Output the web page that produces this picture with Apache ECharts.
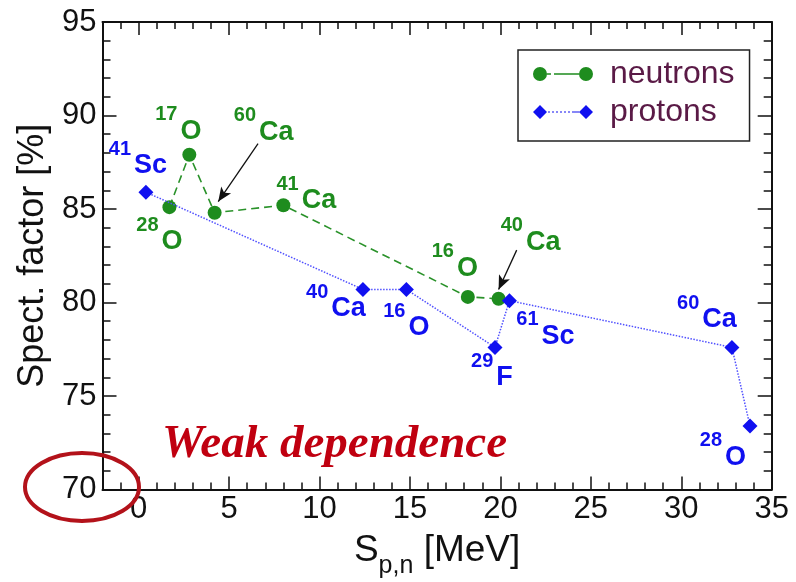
<!DOCTYPE html>
<html><head><meta charset="utf-8">
<script src="https://cdn.jsdelivr.net/npm/echarts@6/dist/echarts.min.js"></script>
<style>html,body{margin:0;padding:0;background:#fff}#c{width:796px;height:582px}</style>
</head><body><div id="c"></div><script>
// ---- data ----
const neutronX = [1.7, 2.8, 4.2, 8.0, 18.2, 19.9];
const neutronY = [85.1, 87.9, 84.8, 85.2, 80.3, 80.2];
const neutronMass = ['28', '17', '60', '41', '16', '40'];
const neutronElem = ['O', 'O', 'Ca', 'Ca', 'O', 'Ca'];
const protonX = [0.4, 12.4, 14.8, 19.7, 20.5, 32.8, 33.8];
const protonY = [85.9, 80.7, 80.7, 77.6, 80.1, 77.6, 73.4];
const protonMass = ['41', '40', '16', '29', '61', '60', '28'];
const protonElem = ['Sc', 'Ca', 'O', 'F', 'Sc', 'Ca', 'O'];
const xMajorTicks = [0, 5, 10, 15, 20, 25, 30, 35];
const xMinorTicks = [-1, 1, 2, 3, 4, 6, 7, 8, 9, 11, 12, 13, 14, 16, 17, 18, 19, 21, 22, 23, 24, 26, 27, 28, 29, 31, 32, 33, 34];
const yTicks = [70, 75, 80, 85, 90, 95];
const arrowFrom = [[6.6, 88.5], [20.9, 82.8]];
const arrowTo = [[4.4, 85.4], [19.9, 80.7]];
const seriesNames = ['neutrons', 'protons'];

// ---- style ----
const FONT = '"Liberation Sans", Arial, sans-serif';
const GREEN = '#1e8c1e', BLUE = '#1010f0', INK = '#111';
const neutronOffsets = [[-10, 28], [-11, -30], [49, -87], [23, -11], [-13, -35], [32, -63]];
const protonOffsets = [[-8, -33], [-27, 13], [0, 32], [-3, 24], [36, 29], [-25, -34], [-27, 25]];

const richFor = c => ({
  s: {fontSize: 20, fontWeight: 'bold', color: c, fontFamily: FONT, verticalAlign: 'top'},
  e: {fontSize: 27, fontWeight: 'bold', color: c, fontFamily: FONT, verticalAlign: 'bottom', padding: [13, 0, 0, 3]}
});
function buildData(xs, ys, mass, elem, offs) {
  return xs.map((x, i) => ({
    value: [x, ys[i]],
    label: {formatter: '{s|' + mass[i] + '}{e|' + elem[i] + '}', offset: offs[i]}
  }));
}
const lineAxis = {show: true, onZero: false, lineStyle: {color: INK, width: 2}};
const tickLine = {color: INK, width: 1.5};
function xAx(pos, ticks, len, withLine, withLabel) {
  return {
    type: 'value', position: pos, min: -2, max: 35,
    axisLine: withLine ? lineAxis : {show: false, onZero: false},
    axisTick: {show: true, inside: true, length: len, customValues: ticks, lineStyle: tickLine},
    axisLabel: withLabel ? {show: true, customValues: ticks, fontSize: 31, color: INK, margin: 4, fontFamily: FONT} : {show: false},
    splitLine: {show: false}
  };
}
const xAxes = [
  xAx('bottom', xMajorTicks, 13, true, true),
  xAx('bottom', xMinorTicks, 7, false, false),
  xAx('top', xMajorTicks, 13, true, false),
  xAx('top', xMinorTicks, 7, false, false)
];
xAxes[0].name = '{s|S}{sub|p,n}{s| [MeV]}';
xAxes[0].nameLocation = 'middle';
xAxes[0].nameGap = 43;
xAxes[0].nameTextStyle = {
  rich: {
    s: {fontSize: 37, color: INK, fontFamily: FONT, verticalAlign: 'top'},
    sub: {fontSize: 25, color: INK, fontFamily: FONT, verticalAlign: 'bottom', padding: [21, 0, 0, 0]}
  }
};
function yAx(pos, withLabel) {
  return {
    type: 'value', position: pos, min: yTicks[0], max: yTicks[yTicks.length - 1], interval: 5,
    axisLine: lineAxis,
    axisTick: {show: true, inside: true, length: 14, lineStyle: tickLine},
    minorTick: {show: true, splitNumber: 5, length: 8, lineStyle: tickLine},
    axisLabel: withLabel ? {show: true, fontSize: 31, color: INK, margin: 6, fontFamily: FONT} : {show: false},
    splitLine: {show: false}, minorSplitLine: {show: false}
  };
}
const yAxes = [yAx('left', true), yAx('right', false)];
yAxes[0].name = 'Spect. factor [%]';
yAxes[0].nameLocation = 'middle';
yAxes[0].nameGap = 42;
yAxes[0].nameTextStyle = {fontSize: 36, color: INK, fontFamily: FONT};

const neutronIcon = 'path://M0,7A7,7,0,1,1,14,7A7,7,0,1,1,0,7Z M14,6.2L18,6.2L18,7.8L14,7.8Z M21,6.2L46,6.2L46,7.8L21,7.8Z M46,7A7,7,0,1,1,60,7A7,7,0,1,1,46,7Z';
const protonIcon = 'path://M0,7L7,0L14,7L7,14Z M15,6.4L17,6.4L17,7.6L15,7.6Z M19,6.4L21,6.4L21,7.6L19,7.6Z M23,6.4L25,6.4L25,7.6L23,7.6Z M27,6.4L29,6.4L29,7.6L27,7.6Z M31,6.4L33,6.4L33,7.6L31,7.6Z M35,6.4L37,6.4L37,7.6L35,7.6Z M39,6.4L46,6.4L46,7.6L39,7.6Z M46,7L53,0L60,7L53,14Z';

const chart = echarts.init(document.getElementById('c'), null, {renderer: 'canvas'});
chart.setOption({
  animation: false,
  backgroundColor: '#fff',
  grid: {left: 102.5, right: 24.3, top: 22, bottom: 92.5, containLabel: false, outerBoundsMode: 'none'},
  xAxis: xAxes,
  yAxis: yAxes,
  legend: {
    orient: 'vertical', left: 518, top: 50, padding: [8, 15, 13, 15], itemGap: 6,
    itemWidth: 60, itemHeight: 14, borderColor: '#222', borderWidth: 1.5,
    textStyle: {fontSize: 32, color: '#5a1a46', fontFamily: FONT, padding: [0, 0, 0, 12]},
    itemStyle: {borderWidth: 0},
    data: [{name: seriesNames[0], icon: neutronIcon}, {name: seriesNames[1], icon: protonIcon}]
  },
  graphic: [
    {type: 'ellipse', shape: {cx: 82, cy: 487, rx: 57, ry: 34}, style: {fill: 'none', stroke: '#b3121a', lineWidth: 4}, z: 100},
    {type: 'text', left: 162, top: 421, z: 100, style: {text: 'Weak dependence', font: 'italic bold 47px "Liberation Serif", "Times New Roman", serif', fill: '#c00010'}}
  ],
  series: [
    {
      name: seriesNames[0], type: 'line', xAxisIndex: 0, yAxisIndex: 0, z: 3,
      data: buildData(neutronX, neutronY, neutronMass, neutronElem, neutronOffsets),
      symbol: 'circle', symbolSize: 14,
      itemStyle: {color: GREEN},
      lineStyle: {color: '#2a922a', type: [8, 5], width: 1.6},
      label: {show: true, position: 'inside', rich: richFor(GREEN)},
      emphasis: {disabled: true},
      markLine: {
        silent: true, z: 10, symbol: ['none', 'arrow'], symbolSize: [9, 14],
        lineStyle: {color: INK, width: 1.3, type: 'solid'}, label: {show: false},
        emphasis: {disabled: true},
        data: arrowFrom.map((f, i) => [{coord: f}, {coord: arrowTo[i]}])
      }
    },
    {
      name: seriesNames[1], type: 'line', xAxisIndex: 0, yAxisIndex: 0, z: 4,
      data: buildData(protonX, protonY, protonMass, protonElem, protonOffsets),
      symbol: 'diamond', symbolSize: [15, 15],
      itemStyle: {color: BLUE},
      lineStyle: {color: '#5050ff', type: 'dotted', width: 1.5},
      label: {show: true, position: 'inside', rich: richFor(BLUE)},
      emphasis: {disabled: true}
    }
  ]
});
</script></body></html>
